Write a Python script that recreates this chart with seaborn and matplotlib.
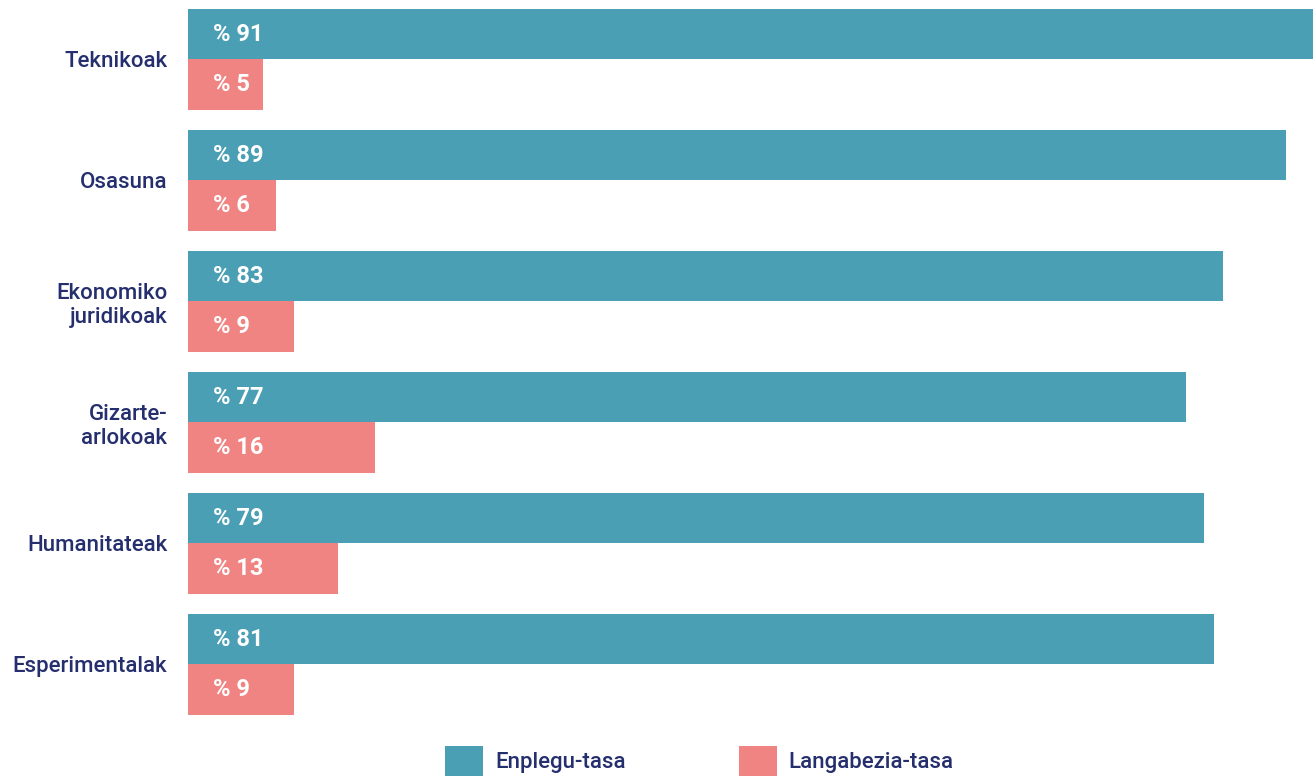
import numpy as np
import pandas as pd
import matplotlib
matplotlib.use("Agg")
import matplotlib.pyplot as plt
import seaborn as sns
from matplotlib.patches import Patch

# datuak
kategoriak = ["Teknikoak", "Osasuna", "Ekonomiko\njuridikoak",
              "Gizarte-\narlokoak", "Humanitateak", "Esperimentalak"]
# barren luzerak (irudian neurtuta)
enplegu = [91.0, 88.8, 83.7, 80.7, 82.2, 83.0]
langabezia = [6.1, 7.1, 8.6, 15.1, 12.1, 8.6]
# barren gaineko etiketak
enplegu_etiketak = [91, 89, 83, 77, 79, 81]
langabezia_etiketak = [5, 6, 9, 16, 13, 9]
serieak = ["Enplegu-tasa", "Langabezia-tasa"]

urdina = "#4a9fb5"
arrosa = "#f08482"
testu_kolorea = "#262f6e"

sns.set_style("white")
plt.rcParams['font.family'] = ['Roboto', 'DejaVu Sans']

df = pd.DataFrame({
    "kategoria": kategoriak * 2,
    "balioa": enplegu + langabezia,
    "mota": [serieak[0]] * len(kategoriak) + [serieak[1]] * len(kategoriak),
})

fig = plt.figure(figsize=(13.13, 7.82), dpi=100)
ax = fig.add_axes([188 / 1313, 0.0729, 1125 / 1313, 0.9284])

sns.barplot(data=df, y="kategoria", x="balioa", hue="mota", orient="h",
            palette=[urdina, arrosa], width=0.83, saturation=1,
            linewidth=0, legend=False, ax=ax)

ax.set_xlim(0, 91)
ax.set_ylim(5.5, -0.5)
ax.set_xlabel("")
ax.set_ylabel("")
ax.set_xticks([])
sns.despine(ax=ax, left=True, bottom=True)
ax.tick_params(axis="y", length=0, pad=15, labelsize=16, labelcolor=testu_kolorea)
for lbl in ax.get_yticklabels():
    lbl.set_fontweight("medium")
    lbl.set_horizontalalignment("right")

# barren etiketak
for cont, etik in zip(ax.containers, [enplegu_etiketak, langabezia_etiketak]):
    for bar, v in zip(cont.patches, etik):
        ax.text(2.0, bar.get_y() + bar.get_height() / 2, f"% {v}",
                color="white", fontsize=17, fontweight="bold",
                ha="left", va="center")

handles = [Patch(facecolor=urdina, linewidth=0), Patch(facecolor=arrosa, linewidth=0)]
fig.legend(handles, serieak, loc="upper left",
           bbox_to_anchor=(445 / 1313, 1 - 746 / 782), ncol=2,
           frameon=False, handlelength=1.71, handleheight=1.71,
           handletextpad=0.54, columnspacing=5.1, borderpad=0, borderaxespad=0,
           labelcolor=testu_kolorea, prop={"weight": "medium", "size": 16})

fig.savefig("out.png", dpi=100)
